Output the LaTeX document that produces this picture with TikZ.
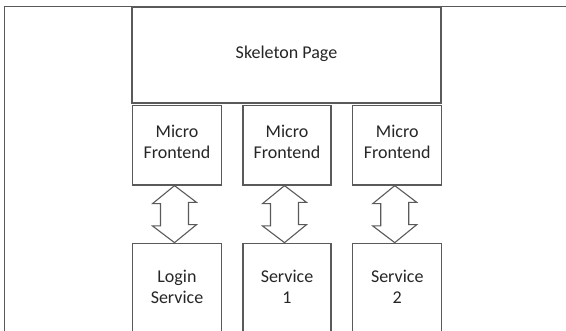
\documentclass[tikz,border=0pt]{standalone}
\usepackage{fontspec}
\setmainfont{Carlito}
\usetikzlibrary{calc}
\definecolor{linegray}{HTML}{5A5A5A}
\definecolor{textdark}{HTML}{262626}
\tikzset{
  boxnode/.style={draw=linegray, line width=1.3pt, fill=white, inner sep=0pt},
  labeltext/.style={align=center, text=textdark, font=\fontsize{18}{21}\selectfont, inner sep=0pt},
  dblarrow/.style={draw=linegray, line width=1.1pt, fill=white, line join=miter},
  frameline/.style={draw=linegray, line width=1.5pt}
}
\begin{document}
\begin{tikzpicture}[x=1pt,y=1pt]
  \useasboundingbox (0,0) rectangle (566,331);
  \clip (0,0) rectangle (566,331);
  \fill[white] (0,0) rectangle (566,331);
  % outer frame
  \coordinate (fb) at (4.3,-2);
  \coordinate (fc) at (4.3,324.3);
  \coordinate (fr) at (568,324.3);
  \draw[frameline] (fb) -- (fc) -- (fr);
  % skeleton
  \node[boxnode, minimum width=309pt, minimum height=96pt] (sk) at (286.5,276) {};
  \node[labeltext] (skt) at ($(sk.center)+(0,1)$) {Skeleton Page};
  % micro frontends
  \node[boxnode, minimum width=89pt, minimum height=79.5pt] (mf1) at (177,185.75) {};
  \node[boxnode, minimum width=88pt, minimum height=79.5pt] (mf2) at (287,185.75) {};
  \node[boxnode, minimum width=89pt, minimum height=79.5pt] (mf3) at (397.25,185.75) {};
  \foreach \i in {1,2,3}{
    \node[labeltext] (mft\i) at ($(mf\i.center)+(0,3)$) {Micro\\Frontend};
  }
  % services
  \node[boxnode, minimum width=89pt, minimum height=96pt] (sv1) at (177,39.7) {};
  \node[boxnode, minimum width=88pt, minimum height=96pt] (sv2) at (287,39.7) {};
  \node[boxnode, minimum width=89pt, minimum height=96pt] (sv3) at (397.25,39.7) {};
  \node[labeltext] (svt1) at ($(sv1.center)+(0,4.5)$) {Login\\Service};
  \node[labeltext] (svt2) at ($(sv2.center)+(0,4.5)$) {Service\\1};
  \node[labeltext] (svt3) at ($(sv3.center)+(0,4.5)$) {Service\\2};
  % double arrows
  \foreach \i in {1,2,3}{
    \draw[dblarrow] ($(mf\i.south)+(-2.5,0)$) -- ++(-22,-18) -- ++(8,0) -- ++(0,-22.3)
      -- ++(-8,0) -- ($(sv\i.north)+(-2.5,0)$) -- ++(22,18) -- ++(-8,0) -- ++(0,22.3)
      -- ++(8,0) -- cycle;
  }
\end{tikzpicture}
\end{document}
